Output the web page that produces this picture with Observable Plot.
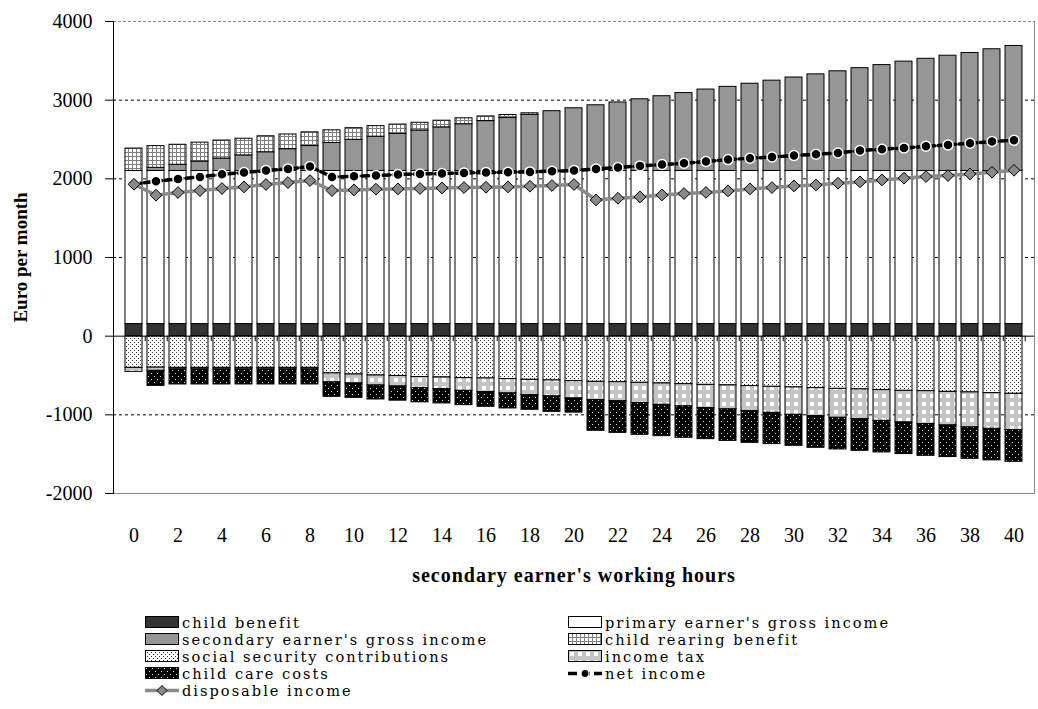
<!DOCTYPE html>
<html><head><meta charset="utf-8">
<script src="https://cdn.jsdelivr.net/npm/d3@7"></script>
<script src="https://cdn.jsdelivr.net/npm/@observablehq/plot@0.6"></script>
<style>
body{margin:0;background:#fff;font-family:"Liberation Serif",serif;color:#000;}
#legend{position:relative;width:1038px;height:109px;}
.item{position:absolute;left:0;height:17px;white-space:nowrap;}
.item svg{position:absolute;top:2px;}
.item span{position:absolute;top:0;height:17px;line-height:17px;font-family:"DejaVu Serif",serif;font-size:14.6px;letter-spacing:2px;}
</style></head><body>
<div id="chart"></div>
<div id="legend"></div>
<script>
const hours = [0,1,2,3,4,5,6,7,8,9,10,11,12,13,14,15,16,17,18,19,20,21,22,23,24,25,26,27,28,29,30,31,32,33,34,35,36,37,38,39,40];
const xTickLabels = [0,2,4,6,8,10,12,14,16,18,20,22,24,26,28,30,32,34,36,38,40];
const yTickValues = [-2000,-1000,0,1000,2000,3000,4000];
const gridValues = [-1000,1000,2000,3000];

const childBenefit = [154,154,154,154,154,154,154,154,154,154,154,154,154,154,154,154,154,154,154,154,154,154,154,154,154,154,154,154,154,154,154,154,154,154,154,154,154,154,154,154,154];
const primaryGross = [1946,1946,1946,1946,1946,1946,1946,1946,1946,1946,1946,1946,1946,1946,1946,1946,1946,1946,1946,1946,1946,1946,1946,1946,1946,1946,1946,1946,1946,1946,1946,1946,1946,1946,1946,1946,1946,1946,1946,1946,1946];
const secondaryGross = [0,40,79,119,158,198,238,277,317,356,396,436,471,515,554,594,634,673,713,760,797,835,871,911,950,990,1035,1069,1109,1148,1188,1228,1267,1307,1346,1390,1426,1465,1500,1547,1589];
const childRearing = [285,276,254,241,229,212,203,187,174,161,148,134,119,98,85,76,59,38,20,0,0,0,0,0,0,0,0,0,0,0,0,0,0,0,0,0,0,0,0,0,0];
const socialSecurity = [403,400,403,403,403,403,403,403,403,474,487,500,506,519,525,534,538,546,555,563,572,581,585,593,601,610,619,626,635,644,652,661,670,677,686,695,699,708,715,724,733];
const incomeTax = [51,41,20,20,20,20,20,20,20,114,114,127,134,142,148,161,174,182,195,203,220,232,241,258,272,283,296,305,318,331,348,356,368,378,391,402,419,427,445,454,461];
const childCare = [0,191,191,191,191,191,191,191,191,183,183,178,180,180,182,182,186,191,186,196,180,390,403,403,398,399,394,400,403,397,394,402,402,402,401,402,403,402,399,401,403];
const netIncome = [1931,1970,1999,2024,2058,2080,2105,2126,2156,2024,2033,2042,2055,2062,2068,2075,2080,2084,2088,2097,2105,2126,2144,2164,2182,2198,2220,2245,2262,2278,2296,2313,2329,2360,2376,2393,2414,2431,2452,2474,2490];
const disposableIncome = [1931,1792,1826,1851,1877,1897,1928,1953,1978,1851,1859,1868,1872,1877,1884,1889,1893,1897,1906,1915,1928,1732,1753,1770,1795,1813,1827,1846,1872,1889,1910,1922,1944,1961,1986,2008,2029,2042,2062,2084,2109];

const seriesNames = ["child benefit","primary earner's gross income","secondary earner's gross income","child rearing benefit","social security contributions","income tax","child care costs"];
const seriesFills = ["#333333","#ffffff","#969696","url(#pCRB)","url(#pSSC)","url(#pTax)","url(#pCC)"];
const seriesValues = [childBenefit, primaryGross, secondaryGross, childRearing, socialSecurity, incomeTax, childCare];
const seriesSign = [1,1,1,1,-1,-1,-1];

const rows = [];
hours.forEach((h, i) => {
  seriesNames.forEach((s, k) => {
    const v = seriesValues[k][i];
    if (v > 0) rows.push({h, s, v: seriesSign[k] * v});
  });
});
const netRows = hours.map((h, i) => ({h, v: netIncome[i]}));
const dispRows = hours.map((h, i) => ({h, v: disposableIncome[i]}));

const W = 1038, H = 600, ML = 113, MR = 4;
const step = (W - ML - MR) / hours.length;

const chart = Plot.plot({
  width: W, height: H,
  marginLeft: ML, marginRight: MR, marginTop: 21, marginBottom: 107,
  style: {fontFamily: '"Liberation Serif", serif', fontSize: "20px", color: "#000", background: "#fff", overflow: "visible"},
  x: {type: "band", domain: hours, paddingInner: 0.25, paddingOuter: 0.125},
  y: {domain: [-2000, 4000]},
  color: {type: "ordinal", domain: seriesNames, range: seriesFills},
  marks: [
    Plot.ruleY(gridValues, {stroke: "#000", strokeWidth: 1, strokeDasharray: "3,3"}),
    Plot.ruleY([4000], {stroke: "#888", strokeWidth: 1, strokeDasharray: "3,2"}),
    Plot.frame({anchor: "right", stroke: "#888"}),
    Plot.frame({anchor: "bottom", stroke: "#888"}),
    Plot.barY(rows, Plot.stackY({x: "h", y: "v", fill: "s", order: seriesNames, stroke: "#000", strokeWidth: 1})),
    Plot.ruleY([0], {stroke: "#000", strokeWidth: 1}),
    Plot.ruleX(hours, {x: d => d, y1: 0, y2: -70, dx: step / 2, stroke: "#000", strokeWidth: 1}),
    Plot.frame({anchor: "left", stroke: "#000"}),
    Plot.axisY({ticks: yTickValues, tickSize: 8, tickPadding: 13, tickFormat: d => String(d), fontSize: 20, label: null, anchor: "left"}),
    Plot.axisX({ticks: xTickLabels, tickSize: 0, tickPadding: 34, fontSize: 20, label: null, anchor: "bottom"}),
    Plot.line(netRows, {x: "h", y: "v", stroke: "#000", strokeWidth: 3.5, strokeDasharray: "7,3.5"}),
    Plot.dot(netRows, {x: "h", y: "v", r: 5, fill: "#000", stroke: "#fff", strokeWidth: 1.5}),
    Plot.line(dispRows, {x: "h", y: "v", stroke: "#8a8a8a", strokeWidth: 3.5}),
    Plot.dot(dispRows, {x: "h", y: "v", symbol: "diamond2", r: 5.3, fill: "#8a8a8a", stroke: "#000", strokeWidth: 1}),
    Plot.text(["Euro per month"], {frameAnchor: "left", dx: -93, rotate: -90, textAnchor: "middle", fontWeight: "bold", fontSize: 19}),
    Plot.text(["secondary earner's working hours"], {frameAnchor: "bottom", dy: 88, textAnchor: "middle", fontWeight: "bold", fontSize: 20})
  ]
});

const defsMarkup = `
<pattern id="pCRB" patternUnits="userSpaceOnUse" width="4" height="4">
  <rect width="4" height="4" fill="#fff"/>
  <path d="M0 0.5H4M0.5 0V4" stroke="#808080" stroke-width="1"/>
</pattern>
<pattern id="pSSC" patternUnits="userSpaceOnUse" width="4" height="4">
  <rect width="4" height="4" fill="#fff"/>
  <rect x="0" y="0" width="1" height="1" fill="#333"/>
  <rect x="2" y="2" width="1" height="1" fill="#333"/>
</pattern>
<pattern id="pTax" patternUnits="userSpaceOnUse" width="8" height="8">
  <rect width="8" height="8" fill="#c4c4c4"/>
  <rect x="2" y="2" width="4" height="4" fill="#fff"/>
</pattern>
<pattern id="pCC" patternUnits="userSpaceOnUse" width="6" height="6">
  <rect width="6" height="6" fill="#000"/>
  <rect x="1" y="1" width="1" height="1" fill="#ddd"/>
  <rect x="4" y="4" width="1" height="1" fill="#ddd"/>
</pattern>`;
const defs = document.createElementNS("http://www.w3.org/2000/svg", "defs");
defs.innerHTML = defsMarkup;
chart.insertBefore(defs, chart.firstChild);
chart.querySelectorAll("text").forEach(t => {
  if (t.textContent === "secondary earner's working hours") t.setAttribute("letter-spacing", "1");
});
document.getElementById("chart").appendChild(chart);

// legend
const legendItems = [
  {label: "child benefit", kind: "rect", fill: "#333333", col: 0, row: 0},
  {label: "primary earner's gross income", kind: "rect", fill: "#ffffff", col: 1, row: 0},
  {label: "secondary earner's gross income", kind: "rect", fill: "#969696", col: 0, row: 1},
  {label: "child rearing benefit", kind: "rect", fill: "url(#pCRB)", col: 1, row: 1},
  {label: "social security contributions", kind: "rect", fill: "url(#pSSC)", col: 0, row: 2},
  {label: "income tax", kind: "rect", fill: "url(#pTax)", col: 1, row: 2},
  {label: "child care costs", kind: "rect", fill: "url(#pCC)", col: 0, row: 3},
  {label: "net income", kind: "net", col: 1, row: 3},
  {label: "disposable income", kind: "disp", col: 0, row: 4}
];
const colSwatchX = [145, 568];
const colTextX = [182, 605];
const rowY = [14, 31, 48, 65, 82];
const legend = document.getElementById("legend");
legendItems.forEach(it => {
  const div = document.createElement("div");
  div.className = "item";
  div.style.top = rowY[it.row] + "px";
  let sw;
  if (it.kind === "rect") {
    sw = `<svg width="35" height="13" style="left:${colSwatchX[it.col]}px"><rect x="0.5" y="0.5" width="33" height="11" fill="${it.fill}" stroke="#000"/></svg>`;
  } else if (it.kind === "net") {
    sw = `<svg width="36" height="13" style="left:${colSwatchX[it.col]}px"><line x1="0" x2="34" y1="6.5" y2="6.5" stroke="#000" stroke-width="3.5" stroke-dasharray="9,4"/><circle cx="17" cy="6.5" r="4" fill="#000" stroke="#fff" stroke-width="1.2"/></svg>`;
  } else {
    sw = `<svg width="36" height="13" style="left:${colSwatchX[it.col]}px"><line x1="0" x2="34" y1="6.5" y2="6.5" stroke="#8a8a8a" stroke-width="3.5"/><path d="M17 1.5L22 6.5L17 11.5L12 6.5Z" fill="#8a8a8a" stroke="#000"/></svg>`;
  }
  div.innerHTML = sw + `<span style="left:${colTextX[it.col]}px">${it.label}</span>`;
  legend.appendChild(div);
});
</script>
</body></html>
